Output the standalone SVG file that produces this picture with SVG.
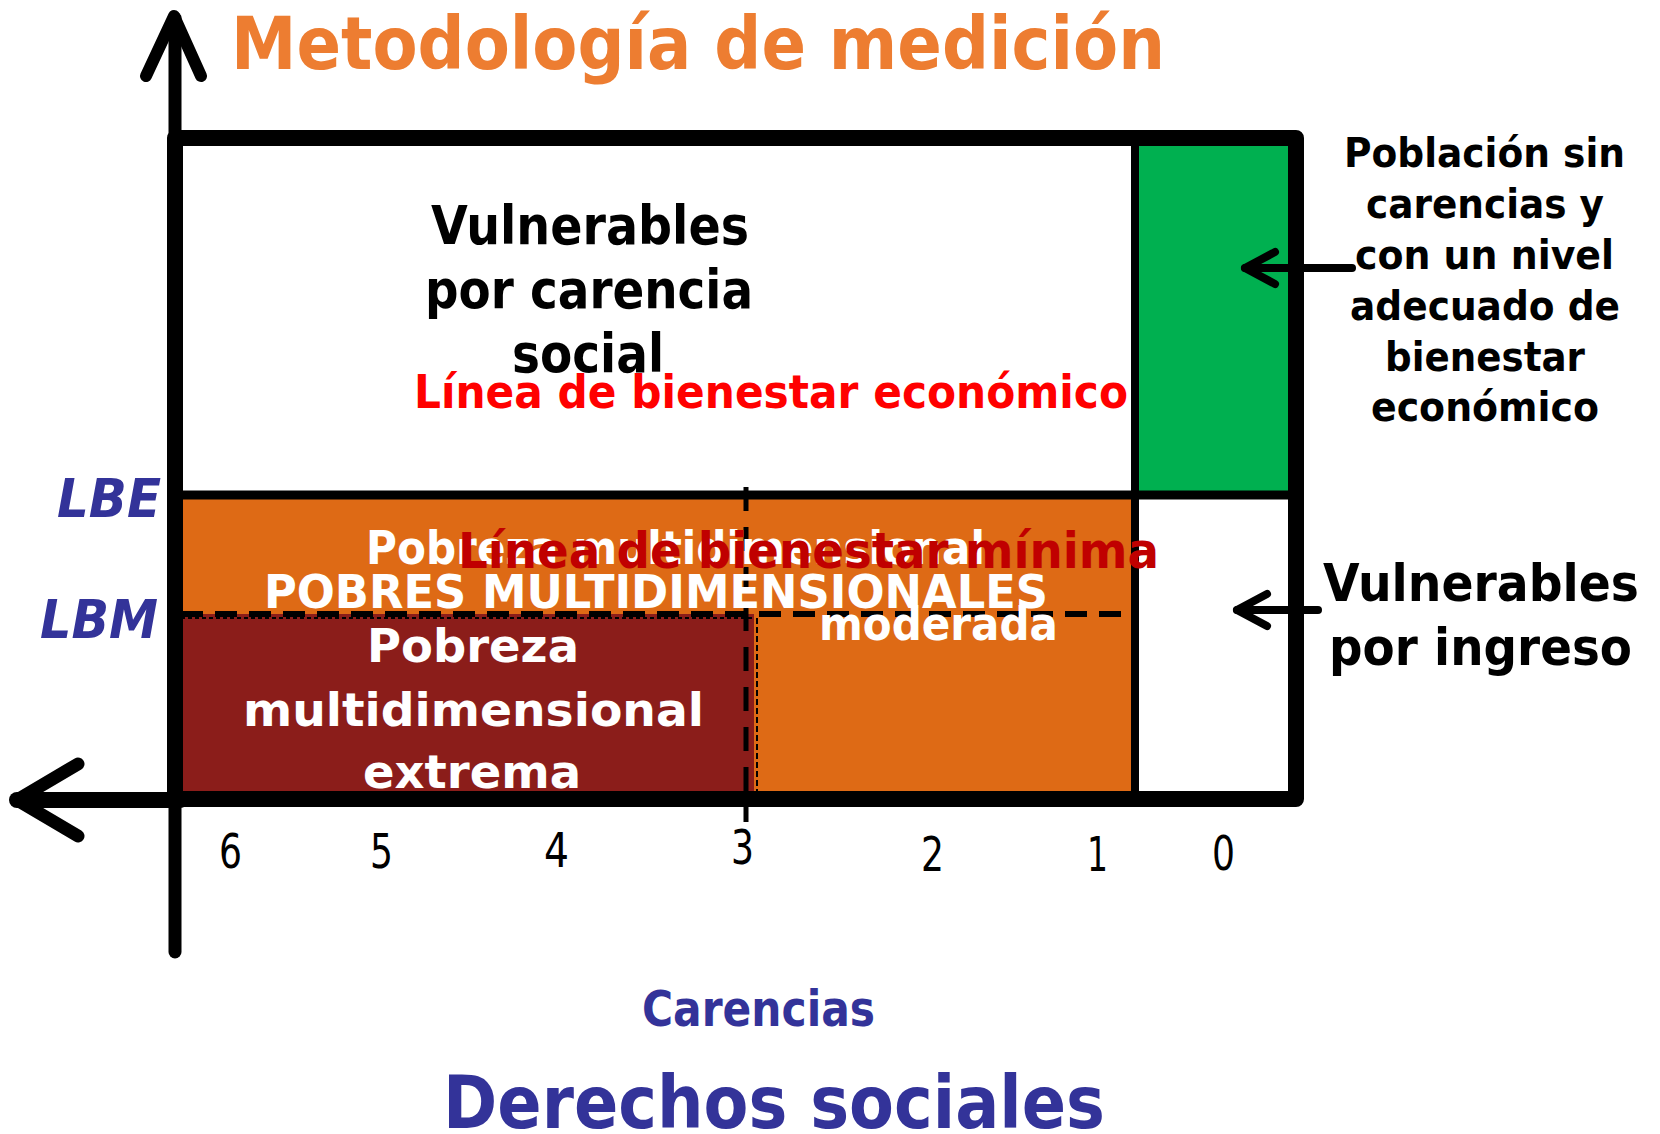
<svg xmlns="http://www.w3.org/2000/svg" width="1660" height="1134" viewBox="0 0 1660 1134">
<style>
text{font-family:"DejaVu Sans",Verdana,sans-serif;font-weight:bold}
.c{lengthAdjust:spacingAndGlyphs}
.wt{fill:#ffffff}
.bk{fill:#000000}
.bl{fill:#333399}
.num{font-weight:normal;fill:#000000;font-size:48px}
.ln{stroke:#000;fill:none}
.arr{stroke:#000;fill:none;stroke-linecap:round;stroke-linejoin:round}
</style>
<rect x="0" y="0" width="1660" height="1134" fill="#ffffff"/>

<g id="region-vulnerables-carencia">
  <rect x="175" y="138" width="960" height="357" fill="#ffffff"/>
</g>
<g id="region-sin-carencias">
  <rect x="1135" y="138" width="155" height="357" fill="#00B050"/>
</g>
<g id="region-pobreza-moderada">
  <rect x="175" y="495" width="960" height="304" fill="#DE6A15"/>
</g>
<g id="region-pobreza-extrema">
  <rect x="175" y="614" width="579" height="185" fill="#8B1D1A"/>
</g>
<g id="region-vulnerables-ingreso">
  <rect x="1135" y="495" width="161" height="304" fill="#ffffff"/>
</g>

<g id="grid-lines">
  <line class="ln" x1="1135" y1="138" x2="1135" y2="799" stroke-width="8"/>
  <line class="ln" x1="175" y1="495" x2="1296" y2="495" stroke-width="9"/>
  <line class="ln" x1="181" y1="614" x2="1131" y2="614" stroke-width="6" stroke-dasharray="22 12"/>
  <line class="ln" x1="181" y1="618" x2="754" y2="618" stroke-width="2" stroke-dasharray="4 3"/>
  <line class="ln" x1="746" y1="487" x2="746" y2="822" stroke-width="5" stroke-dasharray="24 16"/>
  <line class="ln" x1="757" y1="618" x2="757" y2="792" stroke-width="2" stroke-dasharray="6 3"/>
  <rect x="175" y="138" width="1121" height="661" fill="none" stroke="#000" stroke-width="16" stroke-linejoin="round"/>
</g>

<g id="connectors">
  <line class="arr" x1="175" y1="18" x2="175" y2="952" stroke-width="13" stroke-linecap="butt"/>
  <polyline class="arr" points="146,76 174,16 201,76" stroke-width="12"/>
  <line class="arr" x1="17" y1="800" x2="180" y2="800" stroke-width="16" stroke-linecap="butt"/>
  <polyline class="arr" points="78,764 17,800 78,836" stroke-width="13"/>
  <line class="arr" x1="1245" y1="268" x2="1352" y2="268" stroke-width="8"/>
  <polyline class="arr" points="1275,252 1245,268 1275,284" stroke-width="8"/>
  <line class="arr" x1="1237" y1="610" x2="1318" y2="610" stroke-width="8"/>
  <polyline class="arr" points="1267,594 1237,610 1267,626" stroke-width="8"/>
</g>

<g id="title">
  <text x="231" y="69" font-size="73" fill="#ED7D31" textLength="934" lengthAdjust="spacingAndGlyphs">Metodología de medición</text>
</g>

<g id="axis-labels">
  <text x="57" y="517" font-size="53" font-style="italic" class="bl" textLength="104" lengthAdjust="spacingAndGlyphs">LBE</text>
  <text x="40" y="638" font-size="53" font-style="italic" class="bl" textLength="118" lengthAdjust="spacingAndGlyphs">LBM</text>
  <text x="642" y="1026" font-size="49" class="bl" textLength="233" lengthAdjust="spacingAndGlyphs">Carencias</text>
  <text x="443" y="1128" font-size="73" class="bl" textLength="662" lengthAdjust="spacingAndGlyphs">Derechos sociales</text>
</g>

<g id="ticks">
  <text class="num" x="219" y="868" textLength="23" lengthAdjust="spacingAndGlyphs">6</text>
  <text class="num" x="370" y="868" textLength="23" lengthAdjust="spacingAndGlyphs">5</text>
  <text class="num" x="544" y="867" textLength="25" lengthAdjust="spacingAndGlyphs">4</text>
  <text class="num" x="731" y="864" textLength="23" lengthAdjust="spacingAndGlyphs">3</text>
  <text class="num" x="921" y="871" textLength="23" lengthAdjust="spacingAndGlyphs">2</text>
  <text class="num" x="1087" y="871" textLength="21" lengthAdjust="spacingAndGlyphs">1</text>
  <text class="num" x="1212" y="870" textLength="23" lengthAdjust="spacingAndGlyphs">0</text>
</g>

<g id="label-vulnerables-carencia">
  <text x="431" y="244" font-size="53" class="bk" textLength="318" lengthAdjust="spacingAndGlyphs">Vulnerables</text>
  <text x="425" y="308" font-size="53" class="bk" textLength="328" lengthAdjust="spacingAndGlyphs">por carencia</text>
  <text x="512" y="372" font-size="53" class="bk" textLength="152" lengthAdjust="spacingAndGlyphs">social</text>
</g>
<g id="label-lbe">
  <text x="414" y="408" font-size="46" fill="#FF0000" textLength="714" lengthAdjust="spacingAndGlyphs">Línea de bienestar económico</text>
</g>

<g id="label-pobreza-moderada">
  <text x="366" y="564" font-size="47" class="wt" textLength="619" lengthAdjust="spacingAndGlyphs">Pobreza multidimensional</text>
  <text x="264" y="608" font-size="46" class="wt" textLength="784" lengthAdjust="spacingAndGlyphs">POBRES MULTIDIMENSIONALES</text>
  <text x="819" y="640" font-size="47" class="wt" textLength="239" lengthAdjust="spacingAndGlyphs">moderada</text>
</g>
<g id="label-lbm">
  <text x="458" y="568" font-size="49" fill="#C00000" textLength="701" lengthAdjust="spacingAndGlyphs">Línea de bienestar mínima</text>
</g>

<g id="label-pobreza-extrema">
  <text x="367" y="662" font-size="47" class="wt" textLength="212" lengthAdjust="spacingAndGlyphs">Pobreza</text>
  <text x="243" y="726" font-size="47" class="wt" textLength="461" lengthAdjust="spacingAndGlyphs">multidimensional</text>
  <text x="363" y="788" font-size="47" class="wt" textLength="218" lengthAdjust="spacingAndGlyphs">extrema</text>
</g>

<g id="label-sin-carencias">
  <text x="1344" y="167" font-size="41" class="bk" textLength="281" lengthAdjust="spacingAndGlyphs">Población sin</text>
  <text x="1366" y="218" font-size="41" class="bk" textLength="238" lengthAdjust="spacingAndGlyphs">carencias y</text>
  <text x="1355" y="269" font-size="41" class="bk" textLength="259" lengthAdjust="spacingAndGlyphs">con un nivel</text>
  <text x="1350" y="320" font-size="41" class="bk" textLength="270" lengthAdjust="spacingAndGlyphs">adecuado de</text>
  <text x="1385" y="371" font-size="41" class="bk" textLength="200" lengthAdjust="spacingAndGlyphs">bienestar</text>
  <text x="1371" y="421" font-size="41" class="bk" textLength="228" lengthAdjust="spacingAndGlyphs">económico</text>
</g>

<g id="label-vulnerables-ingreso">
  <text x="1323" y="601" font-size="52" class="bk" textLength="316" lengthAdjust="spacingAndGlyphs">Vulnerables</text>
  <text x="1329" y="665" font-size="52" class="bk" textLength="303" lengthAdjust="spacingAndGlyphs">por ingreso</text>
</g>
</svg>
